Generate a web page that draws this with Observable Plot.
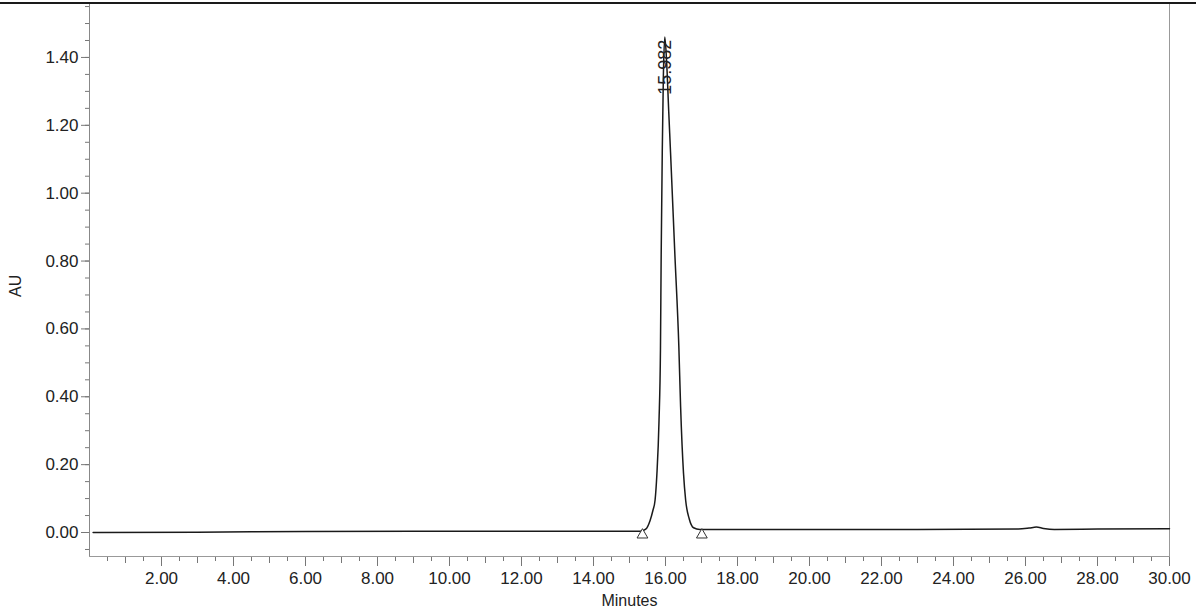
<!DOCTYPE html>
<html><head><meta charset="utf-8">
<script src="https://cdn.jsdelivr.net/npm/d3@7"></script>
<script src="https://cdn.jsdelivr.net/npm/@observablehq/plot@0.6"></script>
<style>
html,body{margin:0;padding:0;background:#fff;}
#chart{position:relative;width:1196px;height:613px;overflow:hidden;}
#edge{position:absolute;left:0;top:2px;width:1196px;height:2px;background:#1a1a1a;}
</style></head><body>
<div id="chart"><div id="edge"></div></div>
<script>
// Chromatogram trace (minutes, AU)
const traceTime = [0.10, 3.00, 6.00, 9.00, 12.00, 15.00, 15.30, 15.45, 15.57, 15.65, 15.71, 15.76, 15.82, 15.86, 15.88, 15.91, 15.94, 15.98, 16.03, 16.09, 16.14, 16.26, 16.37, 16.42, 16.50, 16.56, 16.66, 16.78, 16.95, 17.50, 20.00, 23.00, 25.80, 26.10, 26.30, 26.50, 26.80, 28.00, 30.00];
const traceAU   = [0.000, 0.001, 0.003, 0.004, 0.004, 0.004, 0.004, 0.010, 0.035, 0.065, 0.095, 0.170, 0.330, 0.540, 0.820, 1.120, 1.340, 1.460, 1.390, 1.240, 1.120, 0.820, 0.550, 0.370, 0.175, 0.095, 0.040, 0.014, 0.009, 0.009, 0.009, 0.009, 0.010, 0.013, 0.016, 0.012, 0.009, 0.010, 0.011];

// Integration markers (peak start / end)
const markerTime = [15.36, 17.01];
const markerAU   = [-0.007, -0.007];

// Peak label
const peakTime = [15.982];
const peakLabelAU = [1.29];
const peakLabel = ["15.982"];

// Axes
const xDomain = [0, 30];
const yDomain = [-0.0707, 1.559];
const xTicks = [2, 4, 6, 8, 10, 12, 14, 16, 18, 20, 22, 24, 26, 28, 30];
const yTicks = [0, 0.2, 0.4, 0.6, 0.8, 1.0, 1.2, 1.4];
const xLabel = "Minutes";
const yLabel = "AU";

const trace = traceTime.map((t, i) => ({t, v: traceAU[i]}));
const markers = markerTime.map((t, i) => ({t, v: markerAU[i]}));
const peaks = peakTime.map((t, i) => ({t, v: peakLabelAU[i], label: peakLabel[i]}));
const xMinor = d3.range(0.5, 30.001, 0.5);
const xMid = d3.range(1, 30.001, 1);
const yMinor = d3.range(-0.05, 1.551, 0.05);
const fmt = d3.format(".2f");
const font = "'Liberation Sans', Arial, Helvetica, sans-serif";

const chart = Plot.plot({
  width: 1196,
  height: 613,
  marginLeft: 89,
  marginRight: 27,
  marginTop: 3,
  marginBottom: 57,
  x: {domain: xDomain, label: null},
  y: {domain: yDomain, label: null},
  style: {fontFamily: font, fontSize: "17px", color: "#222", background: "#fff"},
  marks: [
    Plot.axisX({ticks: xMinor, tickSize: 5, tickFormat: () => "", stroke: "#777"}),
    Plot.axisX({ticks: xMid, tickSize: 7, tickFormat: () => "", stroke: "#777"}),
    Plot.axisX({ticks: xTicks, tickSize: 10, tickPadding: 5, tickFormat: fmt, stroke: "#777", fill: "#222", fontSize: 17}),
    Plot.axisY({ticks: yMinor, tickSize: 4, tickFormat: () => "", stroke: "#777"}),
    Plot.axisY({ticks: yTicks, tickSize: 8, tickPadding: 3, tickFormat: fmt, stroke: "#777", fill: "#222", fontSize: 17}),
    Plot.frame({anchor: "left", stroke: "#888"}),
    Plot.frame({anchor: "bottom", stroke: "#999"}),
    Plot.frame({anchor: "right", stroke: "#999"}),
    Plot.line(trace, {x: "t", y: "v", stroke: "#1a1a1a", strokeWidth: 1.5, curve: "monotone-x"}),
    Plot.dot(markers, {x: "t", y: "v", symbol: "triangle", r: 4, stroke: "#333", fill: "#fff", strokeWidth: 1}),
    Plot.text(peaks, {x: "t", y: "v", text: "label", rotate: -90, textAnchor: "start", fontSize: 18, fill: "#222"}),
    Plot.text([xLabel], {text: d => d, frameAnchor: "bottom", dy: 49, fontSize: 16, fill: "#222"}),
    Plot.text([yLabel], {text: d => d, frameAnchor: "left", rotate: -90, dx: -74, dy: 17, fontSize: 16, fill: "#222"})
  ]
});
document.getElementById("chart").prepend(chart);
</script>
</body></html>
